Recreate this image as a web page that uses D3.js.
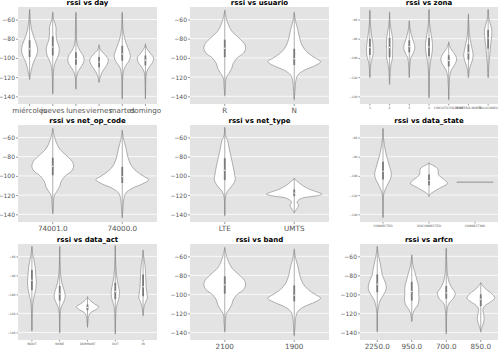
<!DOCTYPE html>
<html>
<head>
<meta charset="utf-8">
<script src="https://cdn.jsdelivr.net/npm/d3@7"></script>
<style>
  body { margin: 0; background: #fff; }
  svg { display: block; font-family: "DejaVu Sans", sans-serif; }
</style>
</head>
<body>
<svg id="chart" width="504" height="353"></svg>
<script>
(function(){
  // y ticks shared by every panel
  var yTicks = [-60, -80, -100, -120, -140];

  // violin profiles: [rssi, half width as share of the band]
  var profR = [[-51,0],[-58,0.02],[-65,0.05],[-72,0.1],[-79,0.2],[-85,0.28],[-90,0.3],[-95,0.27],[-100,0.18],[-106,0.12],[-111,0.1],[-116,0.06],[-121,0.02],[-130,0.01],[-139,0]];
  var profN = [[-53,0],[-62,0.02],[-70,0.05],[-80,0.08],[-88,0.12],[-95,0.2],[-100,0.3],[-104,0.38],[-108,0.3],[-113,0.14],[-118,0.05],[-125,0.02],[-135,0.01],[-143,0]];

  var dayCats = ['miércoles', 'jueves', 'lunes', 'viernes', 'martes', 'domingo'];
  var dayProfiles = [
    [[-50,0],[-60,0.03],[-70,0.08],[-78,0.18],[-86,0.3],[-92,0.35],[-98,0.29],[-105,0.16],[-112,0.08],[-118,0.03],[-122,0]],
    [[-53,0],[-60,0.04],[-68,0.14],[-75,0.14],[-82,0.18],[-90,0.28],[-97,0.25],[-104,0.12],[-110,0.05],[-120,0.02],[-137,0]],
    [[-53,0],[-70,0.02],[-85,0.05],[-92,0.16],[-98,0.32],[-103,0.35],[-108,0.26],[-114,0.1],[-120,0.03],[-132,0]],
    [[-87,0],[-92,0.07],[-97,0.27],[-102,0.4],[-108,0.32],[-114,0.15],[-120,0.05],[-125,0]],
    [[-53,0],[-65,0.02],[-75,0.06],[-85,0.17],[-93,0.3],[-99,0.35],[-104,0.27],[-110,0.1],[-118,0.03],[-130,0.01],[-142,0]],
    [[-86,0],[-90,0.06],[-95,0.2],[-100,0.35],[-105,0.3],[-110,0.15],[-115,0.05],[-122,0.02],[-132,0.01],[-142,0]]
  ];

  var usuarioCats = ['R', 'N'];

  var zonaCats = ['1', '2', '3', '4', 'CIRCUITO ESCOLAR', 'PERIFERIA NORTE', 'SOLUCIONES'];
  var zonaProfiles = [
    [[-51,0],[-62,0.02],[-70,0.05],[-78,0.1],[-85,0.15],[-92,0.17],[-98,0.15],[-104,0.07],[-110,0.03],[-120,0]],
    [[-53,0],[-62,0.02],[-70,0.07],[-78,0.14],[-86,0.16],[-94,0.14],[-100,0.15],[-106,0.08],[-112,0.04],[-120,0.02],[-127,0]],
    [[-62,0],[-68,0.03],[-74,0.08],[-80,0.16],[-86,0.26],[-90,0.28],[-95,0.2],[-100,0.08],[-108,0.03],[-120,0]],
    [[-50,0],[-60,0.02],[-68,0.05],[-76,0.11],[-84,0.17],[-92,0.17],[-100,0.11],[-108,0.05],[-118,0.02],[-130,0.01],[-141,0]],
    [[-84,0],[-90,0.1],[-96,0.3],[-101,0.4],[-106,0.33],[-112,0.15],[-118,0.06],[-125,0.03],[-135,0.01],[-143,0]],
    [[-55,0],[-65,0.02],[-75,0.05],[-82,0.1],[-90,0.18],[-97,0.24],[-103,0.19],[-110,0.07],[-116,0.03],[-120,0]],
    [[-50,0],[-58,0.03],[-64,0.1],[-70,0.18],[-77,0.18],[-84,0.14],[-92,0.1],[-100,0.07],[-108,0.03],[-115,0.02],[-120,0]]
  ];

  var opCodeCats = ['74001.0', '74000.0'];

  var netTypeCats = ['LTE', 'UMTS'];
  var netTypeProfiles = [
    [[-50,0],[-58,0.01],[-63,0.04],[-70,0.06],[-80,0.09],[-90,0.12],[-98,0.14],[-104,0.15],[-110,0.11],[-116,0.04],[-122,0.01],[-141,0]],
    [[-103,0],[-106,0.05],[-110,0.12],[-114,0.22],[-117,0.34],[-119,0.4],[-121,0.3],[-123,0.12],[-126,0.05],[-128,0.04],[-130,0.06],[-133,0.05],[-136,0.02],[-138,0]]
  ];

  var stateCats = ['CONNECTED', 'DISCONNECTED', 'CONNECTING'];
  var stateProfiles = [
    [[-51,0],[-60,0.01],[-68,0.03],[-76,0.06],[-83,0.1],[-90,0.14],[-97,0.18],[-102,0.17],[-108,0.11],[-114,0.05],[-118,0.02],[-130,0.005],[-143,0]],
    [[-87,0],[-89,0.08],[-92,0.18],[-95,0.2],[-98,0.2],[-101,0.25],[-105,0.36],[-108,0.4],[-111,0.3],[-115,0.15],[-118,0.05],[-121,0]],
    [[-106.5,0.4]]
  ];

  var actCats = ['INOUT', 'NONE', 'DORMANT', 'OUT', 'IN'];
  var actProfiles = [
    [[-50,0],[-58,0.03],[-65,0.08],[-72,0.12],[-80,0.14],[-87,0.16],[-94,0.14],[-100,0.1],[-106,0.05],[-115,0.02],[-125,0.01],[-138,0]],
    [[-50,0],[-65,0.01],[-78,0.03],[-88,0.08],[-95,0.15],[-101,0.2],[-107,0.16],[-113,0.06],[-120,0.02],[-140,0]],
    [[-103,0],[-106,0.08],[-110,0.25],[-113,0.4],[-116,0.3],[-119,0.12],[-123,0.04],[-128,0.02],[-134,0]],
    [[-49,0],[-62,0.01],[-75,0.03],[-85,0.07],[-92,0.12],[-99,0.15],[-105,0.12],[-112,0.05],[-120,0.02],[-141,0]],
    [[-54,0],[-62,0.03],[-70,0.07],[-78,0.09],[-86,0.1],[-93,0.11],[-99,0.14],[-104,0.15],[-109,0.08],[-114,0.03],[-122,0]]
  ];

  var bandCats = ['2100', '1900'];

  var arfcnCats = ['2250.0', '950.0', '700.0', '850.0'];
  var arfcnProfiles = [
    [[-50,0],[-58,0.03],[-65,0.07],[-72,0.11],[-80,0.15],[-88,0.24],[-94,0.26],[-100,0.19],[-106,0.09],[-112,0.04],[-120,0.01],[-139,0]],
    [[-59,0],[-66,0.02],[-72,0.05],[-78,0.1],[-85,0.15],[-92,0.2],[-99,0.2],[-105,0.21],[-111,0.18],[-116,0.08],[-121,0.03],[-128,0]],
    [[-52,0],[-62,0.01],[-72,0.02],[-80,0.04],[-87,0.08],[-93,0.16],[-99,0.26],[-104,0.21],[-110,0.07],[-118,0.02],[-141,0]],
    [[-88,0],[-92,0.08],[-96,0.2],[-100,0.34],[-104,0.4],[-108,0.28],[-112,0.12],[-116,0.06],[-120,0.08],[-126,0.1],[-132,0.06],[-136,0.02],[-139,0]]
  ];

  // Helpers
  function quantile(prof, p) {
    if (prof.length < 2) return prof[0][0];
    var pts = prof.slice().sort(function(a, b) { return a[0] - b[0]; });
    var cum = [0];
    for (var i = 1; i < pts.length; i++) {
      cum.push(cum[i - 1] + (pts[i][0] - pts[i - 1][0]) * (pts[i][1] + pts[i - 1][1]) / 2);
    }
    var target = p * cum[cum.length - 1];
    for (var j = 1; j < pts.length; j++) {
      if (cum[j] >= target) {
        var t = (target - cum[j - 1]) / ((cum[j] - cum[j - 1]) || 1);
        return pts[j - 1][0] + t * (pts[j][0] - pts[j - 1][0]);
      }
    }
    return pts[pts.length - 1][0];
  }

  var panels = [
    {title: 'rssi vs day', cats: dayCats, profiles: dayProfiles, col: 0, row: 0},
    {title: 'rssi vs usuario', cats: usuarioCats, profiles: [profR, profN], col: 1, row: 0},
    {title: 'rssi vs zona', cats: zonaCats, profiles: zonaProfiles, col: 2, row: 0, tiny: true},
    {title: 'rssi vs net_op_code', cats: opCodeCats, profiles: [profR, profN], col: 0, row: 1},
    {title: 'rssi vs net_type', cats: netTypeCats, profiles: netTypeProfiles, col: 1, row: 1},
    {title: 'rssi vs data_state', cats: stateCats, profiles: stateProfiles, col: 2, row: 1, tiny: true},
    {title: 'rssi vs data_act', cats: actCats, profiles: actProfiles, col: 0, row: 2, tiny: true},
    {title: 'rssi vs band', cats: bandCats, profiles: [profR, profN], col: 1, row: 2},
    {title: 'rssi vs arfcn', cats: arfcnCats, profiles: arfcnProfiles, col: 2, row: 2}
  ];

  var cols = [[18, 157], [190, 329], [360, 498]];
  var rows = [[7, 104], [125, 222], [244, 340]];

  var svg = d3.select('#chart');

  panels.forEach(function(p) {
    var x0 = cols[p.col][0], x1 = cols[p.col][1];
    var y0 = rows[p.row][0], y1 = rows[p.row][1];

    var x = d3.scaleBand().domain(p.cats).range([x0, x1]);
    var y = d3.scaleLinear().domain([-148, -47]).range([y1, y0]);

    var g = svg.append('g');

    g.append('rect')
      .attr('x', x0).attr('y', y0)
      .attr('width', x1 - x0).attr('height', y1 - y0)
      .attr('fill', '#e3e3e3');

    // grid
    g.append('g').selectAll('line')
      .data(yTicks)
      .enter()
      .append('line')
      .attr('x1', x0).attr('x2', x1)
      .attr('y1', function(d) { return y(d); })
      .attr('y2', function(d) { return y(d); })
      .attr('stroke', '#fff')
      .attr('stroke-width', 0.8);

    // axes
    var yAxis = g.append('g')
      .attr('transform', 'translate(' + x0 + ',0)')
      .call(d3.axisLeft(y).tickValues(yTicks).tickSize(p.tiny ? 1.5 : 2).tickPadding(1));
    var xAxis = g.append('g')
      .attr('transform', 'translate(0,' + y1 + ')')
      .call(d3.axisBottom(x).tickSize(p.tiny ? 1.5 : 2).tickPadding(p.tiny ? 1 : 1.5));
    yAxis.selectAll('.tick text').style('font-size', (p.tiny ? 3 : 6) + 'px');
    xAxis.selectAll('.tick text').style('font-size', (p.tiny ? 3 : 7.2) + 'px');
    [yAxis, xAxis].forEach(function(a) {
      a.select('.domain').remove();
      a.selectAll('.tick line').attr('stroke', '#555').attr('stroke-width', 0.6);
      a.selectAll('.tick text')
        .style('fill', '#555')
        .style('font-family', '"DejaVu Sans", sans-serif');
    });

    // violins
    var bw = x.bandwidth();
    var v = g.append('g')
      .selectAll('g.violin')
      .data(p.profiles.map(function(prof, i) { return {cat: p.cats[i], prof: prof}; }))
      .enter()
      .append('g')
      .attr('class', 'violin');

    v.each(function(d) {
      var el = d3.select(this);
      var cx = x(d.cat) + bw / 2;
      if (d.prof.length === 1) {
        el.append('line')
          .attr('x1', cx - d.prof[0][1] * bw).attr('x2', cx + d.prof[0][1] * bw)
          .attr('y1', y(d.prof[0][0])).attr('y2', y(d.prof[0][0]))
          .attr('stroke', '#7a7a7a').attr('stroke-width', 0.8);
        return;
      }
      var area = d3.area()
        .curve(d3.curveCatmullRom.alpha(0.5))
        .y(function(q) { return y(q[0]); })
        .x0(function(q) { return cx - q[1] * bw; })
        .x1(function(q) { return cx + q[1] * bw; });
      el.append('path')
        .attr('d', area(d.prof))
        .attr('fill', '#fff')
        .attr('stroke', '#808080')
        .attr('stroke-width', 0.6);

      var vals = d.prof.map(function(q) { return q[0]; });
      var lo = d3.min(vals), hi = d3.max(vals);
      var q1 = quantile(d.prof, 0.25), q3 = quantile(d.prof, 0.75), med = quantile(d.prof, 0.5);
      el.append('line')
        .attr('x1', cx).attr('x2', cx)
        .attr('y1', y(hi + 1)).attr('y2', y(lo - 1))
        .attr('stroke', '#8c8c8c').attr('stroke-width', 0.7);
      el.append('line')
        .attr('x1', cx).attr('x2', cx)
        .attr('y1', y(q3)).attr('y2', y(q1))
        .attr('stroke', '#7a7a7a').attr('stroke-width', 1.8);
      el.append('circle')
        .attr('cx', cx).attr('cy', y(med)).attr('r', 0.7)
        .attr('fill', '#fff');
    });

    g.append('text')
      .attr('x', (x0 + x1) / 2)
      .attr('y', y0 - 2)
      .attr('text-anchor', 'middle')
      .style('font-size', '7px')
      .style('font-weight', 'bold')
      .text(p.title);
  });
})();
</script>
</body>
</html>
